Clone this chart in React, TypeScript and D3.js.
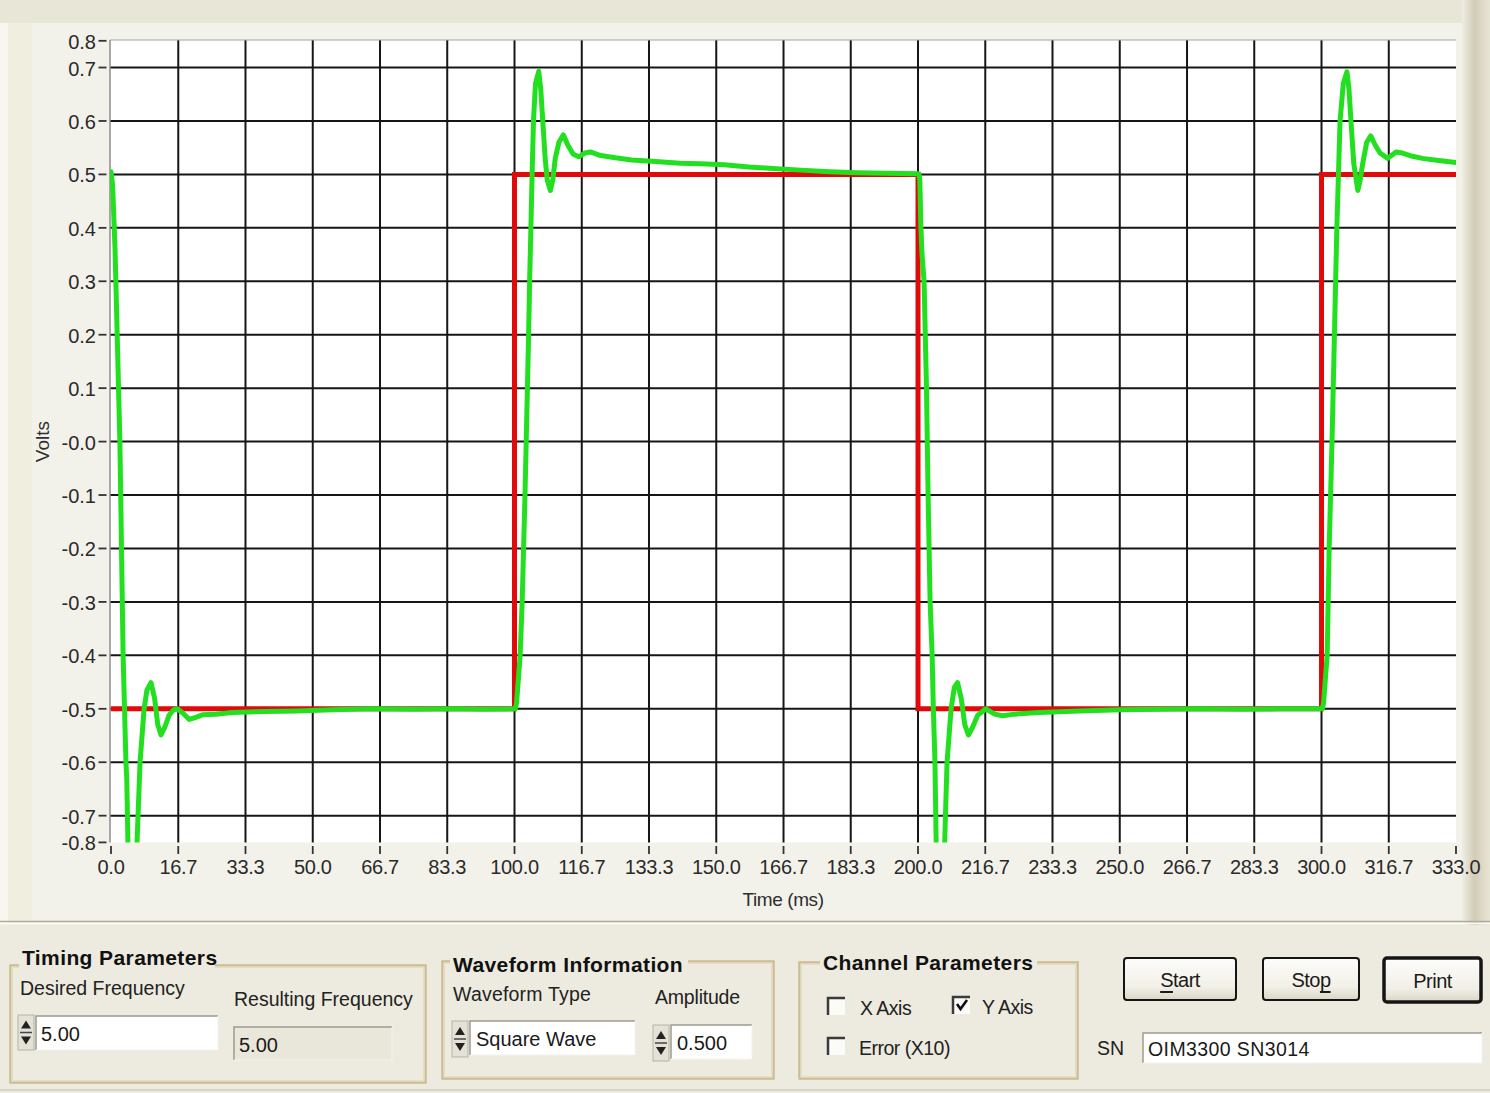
import React from 'react';
import * as d3 from 'd3';

// Scope screenshot: reference square wave (red) and measured response (green)
const WIDTH = 1490;
const HEIGHT = 1093;
const FONT = '"Liberation Sans", Arial, sans-serif';

const xTickValues = [0, 16.67, 33.33, 50, 66.67, 83.33, 100, 116.67, 133.33, 150, 166.67, 183.33, 200,
    216.67, 233.33, 250, 266.67, 283.33, 300, 316.67, 333.33];
const xTickLabels = ['0.0', '16.7', '33.3', '50.0', '66.7', '83.3', '100.0', '116.7', '133.3', '150.0', '166.7',
    '183.3', '200.0', '216.7', '233.3', '250.0', '266.7', '283.3', '300.0', '316.7', '333.0'];

const yTickValues = [0.75, 0.7, 0.6, 0.5, 0.4, 0.3, 0.2, 0.1, 0, -0.1, -0.2, -0.3, -0.4, -0.5, -0.6, -0.7, -0.75];
const yTickLabels = ['0.8', '0.7', '0.6', '0.5', '0.4', '0.3', '0.2', '0.1', '-0.0', '-0.1', '-0.2', '-0.3',
    '-0.4', '-0.5', '-0.6', '-0.7', '-0.8'];
const yGridValues = [0.7, 0.6, 0.5, 0.4, 0.3, 0.2, 0.1, 0, -0.1, -0.2, -0.3, -0.4, -0.5, -0.6, -0.7];

// Reference waveform (ms, volts)
const referenceT = [0, 100, 100, 200, 200, 300, 300, 333.33];
const referenceV = [-0.5, -0.5, 0.5, 0.5, -0.5, -0.5, 0.5, 0.5];

const measuredT = [
    0, 0.4, 1.0, 1.6, 2.2, 2.7, 3.0, 3.35, 3.7, 3.9, 4.2, 5.3, 6.3, 6.7, 7.2, 7.7, 8.2, 8.9, 9.9, 10.8, 11.6,
    12.4, 13.3, 14.4, 15.5, 16.4, 17.8, 19.4, 21.0, 22.8, 26, 30, 38, 46, 55, 65, 75, 85, 92, 100.2,
    100.5, 101.0, 101.4, 101.9, 102.25, 102.6, 102.9, 103.2, 103.5, 103.75, 104.0, 104.3, 104.7, 105.2, 106.0,
    106.5, 107.0, 107.6, 108.1, 108.9, 109.5, 110.1, 111.0, 112.1, 113.2, 114.5, 115.9, 117.4, 118.8, 121,
    125, 129, 135, 141, 146, 152, 158, 164, 171, 178, 185, 192, 200.2,
    200.45, 200.7, 201.0, 201.5, 202.1, 202.5, 203.0, 203.5, 203.8, 204.2, 204.5, 205.5, 206.5, 206.8, 207.2,
    207.7, 208.2, 209.0, 209.8, 210.7, 211.6, 212.5, 213.5, 214.8, 216.8, 219, 221, 224, 230, 240, 250, 260,
    270, 280, 290, 300.2,
    300.5, 301.0, 301.4, 301.9, 302.6, 303.2, 303.8, 304.2, 304.6, 305.4, 306.3, 306.8, 307.3, 308.0, 309.0,
    309.6, 310.2, 311.2, 312.2, 313.3, 314.5, 316.4, 318.5, 320, 322, 325, 329, 333.33,
];
const measuredV = [
    0.505, 0.48, 0.36, 0.18, 0.0, -0.25, -0.4, -0.5, -0.6, -0.63, -0.75, -0.92, -0.78, -0.7, -0.6, -0.55, -0.5,
    -0.465, -0.451, -0.48, -0.53, -0.549, -0.535, -0.512, -0.502, -0.5, -0.508, -0.52, -0.516, -0.511, -0.51,
    -0.507, -0.505, -0.504, -0.502, -0.5, -0.501, -0.5, -0.501, -0.5,
    -0.49, -0.44, -0.4, -0.3, -0.2, -0.1, 0.0, 0.1, 0.2, 0.3, 0.38, 0.48, 0.6, 0.67, 0.693,
    0.66, 0.6, 0.53, 0.49, 0.47, 0.49, 0.53, 0.56, 0.574, 0.555, 0.538, 0.533, 0.54, 0.542, 0.536,
    0.531, 0.527, 0.524, 0.521, 0.52, 0.518, 0.514, 0.511, 0.508, 0.505, 0.503, 0.502, 0.501,
    0.49, 0.405, 0.35, 0.3, 0.1, -0.1, -0.3, -0.4, -0.5, -0.6, -0.75, -0.92, -0.78, -0.7, -0.6,
    -0.55, -0.5, -0.46, -0.451, -0.48, -0.53, -0.549, -0.535, -0.512, -0.5, -0.51, -0.513, -0.51, -0.507,
    -0.504, -0.502, -0.501, -0.5, -0.501, -0.5, -0.5,
    -0.49, -0.44, -0.4, -0.2, 0.0, 0.2, 0.4, 0.5, 0.6, 0.67, 0.692, 0.66, 0.6, 0.52, 0.47,
    0.49, 0.52, 0.56, 0.572, 0.555, 0.54, 0.53, 0.542, 0.54, 0.535, 0.53, 0.526, 0.522,
];

const PLOT = { left: 110, top: 40, right: 1456, bottom: 842.4 };

function Spinner({ x, y, h }: { x: number; y: number; h: number }) {
    const mid = y + h / 2;
    return (
        <g>
            <rect x={x} y={y} width={16} height={h} fill="#e4e2d6" stroke="#b5b3a6" strokeWidth={1} />
            <path d={`M${x + 3},${mid - 4} L${x + 8},${mid - 12} L${x + 13},${mid - 4} Z`} fill="#222" />
            <path d={`M${x + 3},${mid + 4} L${x + 8},${mid + 12} L${x + 13},${mid + 4} Z`} fill="#222" />
            <line x1={x + 2} x2={x + 14} y1={mid} y2={mid} stroke="#444" strokeWidth={1.5} />
        </g>
    );
}

function Field({ x, y, w, h, fill = '#fff', text, tx, size = 20, spacing = 0 }:
    { x: number; y: number; w: number; h: number; fill?: string; text: string; tx?: number; size?: number; spacing?: number }) {
    return (
        <g>
            <rect x={x} y={y} width={w} height={h} fill={fill} />
            <path d={`M${x},${y + h} L${x},${y} L${x + w},${y}`} fill="none" stroke="#9d9b90" strokeWidth={1.5} />
            <path d={`M${x + w},${y} L${x + w},${y + h} L${x},${y + h}`} fill="none" stroke="#f4f3ee" strokeWidth={1} />
            <text x={tx ?? x + 5} y={y + h / 2 + 1} dominantBaseline="central" fontSize={size} fill="#1a1a1a"
                letterSpacing={spacing}>{text}</text>
        </g>
    );
}

function GroupBox({ x, y, w, h, title, titleX, titleY, titleW }:
    { x: number; y: number; w: number; h: number; title: string; titleX: number; titleY: number; titleW: number }) {
    return (
        <g>
            <rect x={x} y={y} width={w} height={h} fill="none" stroke="#cbbc92" strokeWidth={3.5} />
            <rect x={x + 1} y={y + 1} width={w - 2} height={h - 2} fill="none" stroke="#f6f2e4" strokeWidth={1} />
            <rect x={titleX - 3} y={titleY - 13} width={titleW} height={24} fill="#edebdf" />
            <text x={titleX} y={titleY} dominantBaseline="central" fontSize={21} fontWeight="bold" fill="#111"
                letterSpacing={0.4}>{title}</text>
        </g>
    );
}

function CheckBox({ x, y, checked, label, lx }: { x: number; y: number; checked: boolean; label: string; lx: number }) {
    return (
        <g>
            <rect x={x} y={y} width={17} height={17} fill="#fbfbf8" />
            <path d={`M${x},${y + 17} L${x},${y} L${x + 17},${y}`} fill="none" stroke="#3a3a3a" strokeWidth={2.5} />
            {checked && (
                <path d={`M${x + 4},${y + 7} L${x + 7.5},${y + 12} L${x + 14},${y + 3}`} fill="none" stroke="#111" strokeWidth={2.6} />
            )}
            <text x={lx} y={y + 10} dominantBaseline="central" fontSize={19.5} fill="#222" letterSpacing={-0.5}>{label}</text>
        </g>
    );
}

function Button({ x, y, w, h, border, children }: { x: number; y: number; w: number; h: number; border: number; children: React.ReactNode }) {
    return (
        <g>
            <rect x={x} y={y} width={w} height={h} rx={3} fill="url(#btnGrad)" stroke="#151515" strokeWidth={border} />
            <text x={x + w / 2} y={y + h / 2 + 1} textAnchor="middle" dominantBaseline="central" fontSize={20} fill="#1a1a1a" letterSpacing={-0.5}>
                {children}
            </text>
        </g>
    );
}

export default function App() {
    const x = d3.scaleLinear().domain([0, 333.33]).range([111, PLOT.right]);
    const y = d3.scaleLinear().domain([-0.75, 0.75]).range([PLOT.bottom, 40.8]);

    const reference = referenceT.map((t, i) => [t, referenceV[i]] as [number, number]);
    const measured = measuredT.map((t, i) => [t, measuredV[i]] as [number, number]);
    const line = d3.line<[number, number]>().x(d => x(d[0])).y(d => y(d[1])).curve(d3.curveLinear);

    return (
        <svg width={WIDTH} height={HEIGHT} style={{ position: 'absolute', left: 0, top: 0, display: 'block' }}
            fontFamily={FONT}>
            <defs>
                <linearGradient id="rightEdge" x1="0" x2="1" y1="0" y2="0">
                    <stop offset="0" stopColor="#f0eee4" />
                    <stop offset="0.45" stopColor="#d2ccb7" />
                    <stop offset="1" stopColor="#e9e5d6" />
                </linearGradient>
                <linearGradient id="btnGrad" x1="0" x2="0" y1="0" y2="1">
                    <stop offset="0" stopColor="#fdfdfb" />
                    <stop offset="0.7" stopColor="#f1efe6" />
                    <stop offset="1" stopColor="#d9d6c6" />
                </linearGradient>
                <clipPath id="plotClip">
                    <rect x={PLOT.left} y={PLOT.top} width={PLOT.right - PLOT.left} height={PLOT.bottom - PLOT.top} />
                </clipPath>
            </defs>

            {/* window background */}
            <rect x={0} y={0} width={WIDTH} height={HEIGHT} fill="#efede2" />
            <rect x={0} y={0} width={WIDTH} height={23} fill="#e8e6d6" />
            <rect x={0} y={23} width={8} height={900} fill="#f7f6ef" />
            <rect x={8} y={23} width={1458} height={897} fill="#f3f2ea" />
            <rect x={8} y={23} width={24} height={897} fill="#f0eedf" />
            <rect x={1462} y={0} width={28} height={925} fill="url(#rightEdge)" />
            <line x1={0} x2={WIDTH} y1={921.5} y2={921.5} stroke="#aeab9b" strokeWidth={1.5} />
            <line x1={0} x2={WIDTH} y1={923.5} y2={923.5} stroke="#fbfaf4" strokeWidth={1.5} />
            <rect x={0} y={925} width={WIDTH} height={168} fill="#edebdf" />
            <line x1={0} x2={WIDTH} y1={1090} y2={1090} stroke="#d8d5c6" strokeWidth={2} />

            {/* plot area */}
            <rect x={PLOT.left} y={PLOT.top} width={PLOT.right - PLOT.left} height={PLOT.bottom - PLOT.top} fill="#ffffff" />

            {yGridValues.map(v => (
                <line key={`hy${v}`} x1={PLOT.left} x2={PLOT.right} y1={y(v)} y2={y(v)} stroke="#161616" strokeWidth={2} />
            ))}
            {xTickValues.slice(1, -1).map(v => (
                <line key={`vx${v}`} x1={x(v)} x2={x(v)} y1={PLOT.top} y2={PLOT.bottom} stroke="#161616" strokeWidth={2} />
            ))}
            <line x1={PLOT.left} x2={PLOT.right} y1={PLOT.top} y2={PLOT.top} stroke="#a3a3a3" strokeWidth={1.2} />
            <line x1={PLOT.left} x2={PLOT.left} y1={PLOT.top} y2={PLOT.bottom} stroke="#8c8c8c" strokeWidth={1.5} />

            {/* y axis */}
            {yTickValues.map((v, i) => (
                <g key={`yt${i}`}>
                    <line x1={98.5} x2={106.5} y1={y(v)} y2={y(v)} stroke="#333" strokeWidth={1.8} />
                    <text x={96} y={y(v) + 1} textAnchor="end" dominantBaseline="central" fontSize={20} fill="#2a2a2a">
                        {yTickLabels[i]}
                    </text>
                </g>
            ))}
            <text transform={`translate(42,${y(0)}) rotate(-90)`} textAnchor="middle" dominantBaseline="central"
                fontSize={19} fill="#2e2e2e">Volts</text>

            {/* x axis */}
            {xTickValues.map((v, i) => (
                <g key={`xt${i}`}>
                    <line x1={x(v)} x2={x(v)} y1={846} y2={854} stroke="#333" strokeWidth={1.8} />
                    <text x={x(v)} y={867} textAnchor="middle" dominantBaseline="central" fontSize={20} fill="#2a2a2a"
                        letterSpacing={-0.3}>{xTickLabels[i]}</text>
                </g>
            ))}
            <text x={783} y={899} textAnchor="middle" dominantBaseline="central" fontSize={19} fill="#2e2e2e"
                letterSpacing={-0.4}>Time (ms)</text>

            {/* traces */}
            <g clipPath="url(#plotClip)">
                <path d={line(reference) ?? ''} fill="none" stroke="#e10a0a" strokeWidth={5} strokeLinejoin="miter" />
                <path d={line(measured) ?? ''} fill="none" stroke="#22e01f" strokeWidth={5} strokeLinejoin="round"
                    strokeLinecap="round" />
            </g>

            {/* control panel */}
            <GroupBox x={11} y={966} w={414} h={116} title="Timing Parameters" titleX={22} titleY={957} titleW={196} />
            <text x={20} y={988} dominantBaseline="central" fontSize={19.5} fill="#222">Desired Frequency</text>
            <text x={234} y={999} dominantBaseline="central" fontSize={19.5} fill="#222">Resulting Frequency</text>
            <Spinner x={18} y={1015} h={35} />
            <Field x={36} y={1016} w={182} h={34} text="5.00" />
            <Field x={234} y={1027} w={158} h={33} fill="#e9e7da" text="5.00" />

            <GroupBox x={443} y={962} w={330} h={116} title="Waveform Information" titleX={453} titleY={964} titleW={238} />
            <text x={453} y={994} dominantBaseline="central" fontSize={19.5} fill="#222" letterSpacing={0.2}>Waveform Type</text>
            <text x={655} y={997} dominantBaseline="central" fontSize={19.5} fill="#222" letterSpacing={-0.2}>Amplitude</text>
            <Spinner x={452} y={1021} h={36} />
            <Field x={470} y={1021} w={165} h={34} text="Square Wave" tx={476} />
            <Spinner x={653} y={1025} h={36} />
            <Field x={671} y={1025} w={81} h={34} text="0.500" tx={677} />

            <GroupBox x={800} y={963} w={277} h={115} title="Channel Parameters" titleX={823} titleY={962} titleW={217} />
            <CheckBox x={828} y={998} checked={false} label="X Axis" lx={860} />
            <CheckBox x={953} y={997} checked={true} label="Y Axis" lx={982} />
            <CheckBox x={828} y={1038} checked={false} label="Error (X10)" lx={859} />

            <Button x={1124} y={958} w={112} h={42} border={2}>
                <tspan textDecoration="underline">S</tspan>tart
            </Button>
            <Button x={1263} y={958} w={96} h={42} border={2}>
                Sto<tspan textDecoration="underline">p</tspan>
            </Button>
            <Button x={1384} y={958} w={97} h={44} border={3.5}>Print</Button>

            <text x={1097} y={1048} dominantBaseline="central" fontSize={19.5} fill="#222">SN</text>
            <Field x={1143} y={1033} w={339} h={30} text="OIM3300 SN3014" tx={1148} size={19.5} spacing={0.4} />
        </svg>
    );
}
